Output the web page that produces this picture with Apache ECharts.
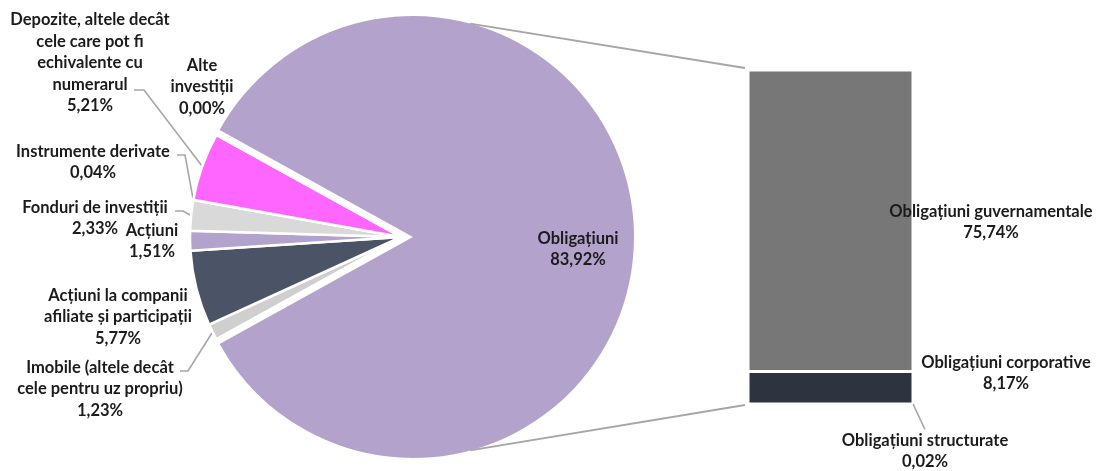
<!DOCTYPE html>
<html>
<head>
<meta charset="utf-8">
<script src="https://cdn.jsdelivr.net/npm/echarts@6/dist/echarts.min.js"></script>
<style>
  html, body { margin: 0; padding: 0; background: #ffffff; }
  #chart { width: 1097px; height: 471px; }
</style>
</head>
<body>
<div id="chart"></div>
<script>
// Structura plasamentelor (pie) – ordinea sensului acelor de ceasornic
const pieCategories = [
  'Obligațiuni',
  'Imobile (altele decât\ncele pentru uz propriu)',
  'Acțiuni la companii\nafiliate și participații',
  'Acțiuni',
  'Fonduri de investiții',
  'Instrumente derivate',
  'Depozite, altele decât\ncele care pot fi\nechivalente cu\nnumerarul',
  'Alte\ninvestiții'
];
const pieValues = [83.92, 1.23, 5.77, 1.51, 2.33, 0.04, 5.21, 0.00];
const pieColors = ['#B3A2CC', '#CFCFCF', '#4A5466', '#B3A2CC', '#D9D9D9', '#8E8E8E', '#FF66FF', '#A0A0A0'];

// Detalierea obligațiunilor (bara), de jos în sus
const barCategories = ['Obligațiuni structurate', 'Obligațiuni corporative', 'Obligațiuni guvernamentale'];
const barValues = [0.02, 8.17, 75.74];
const barColors = ['#5A5A5A', '#2E343F', '#777777'];

// Label placement: text centre and the elbow/end points of the guide line
const pieLabelSpots = [
  { x: 578, y: 249, line: null },
  { x: 100, y: 389, line: [[188, 371], [180, 371]] },
  { x: 118, y: 317, line: null },
  { x: 152, y: 241, line: null },
  { x: 95,  y: 218, line: [[183, 211], [175, 211]] },
  { x: 93,  y: 162, line: [[185, 155], [177, 155]] },
  { x: 90,  y: 63,  line: [[144, 90], [134, 90]] },
  { x: 202, y: 87,  line: null }
];
const barLabelSpots = [
  { x: 925, y: 451, line: [[925, 427]] },
  { x: 1006, y: 373, line: null },
  { x: 991, y: 222, line: null }
];

const MAIN_CENTER = [413, 237], MAIN_R = 221;   // exploded large slice
const SMALL_CENTER = [401, 237], SMALL_R = 211; // remaining slices
const BAR_BOX = { left: 748, top: 70, width: 165, height: 334 };

const FONT = { fontFamily: 'Lato', fontWeight: 'bold', fontSize: 16.5, color: '#1b1b1b', lineHeight: 21.5 };
const GUIDE = '#A6A6A6';

const fmt = v => v.toFixed(2).replace('.', ',') + '%';
const pieTotal = pieValues.reduce((a, b) => a + b, 0);
const restShareDeg = (pieTotal - pieValues[0]) / pieTotal * 360;
const startAngle = 180 - restShareDeg / 2;

// mid-point of a slice's outer arc (clockwise from startAngle)
function arcMid(i) {
  let acc = 0;
  for (let k = 0; k < i; k++) acc += pieValues[k];
  const midDeg = startAngle - (acc + pieValues[i] / 2) / pieTotal * 360;
  const r = midDeg * Math.PI / 180;
  return [SMALL_CENTER[0] + SMALL_R * Math.cos(r), SMALL_CENTER[1] - SMALL_R * Math.sin(r)];
}

const hidden = { color: 'rgba(0,0,0,0)', borderWidth: 0 };

const mainData = pieCategories.map((name, i) => i === 0
  ? { name, value: pieValues[i], itemStyle: { color: pieColors[i] },
      label: { show: true, position: 'inside' }, labelLine: { show: false } }
  : { name, value: pieValues[i], itemStyle: hidden, label: { show: false }, labelLine: { show: false } });

const smallData = pieCategories.map((name, i) => i === 0
  ? { name, value: pieValues[i], itemStyle: hidden, label: { show: false }, labelLine: { show: false } }
  : { name, value: pieValues[i],
      itemStyle: { color: pieColors[i], borderColor: '#ffffff', borderWidth: 2.5 },
      label: { show: true, position: 'outside' },
      labelLine: { show: !!pieLabelSpots[i].line } });

function pieLayout(params) {
  const s = pieLabelSpots[params.dataIndex];
  const out = { x: s.x, y: s.y, align: 'center', verticalAlign: 'middle' };
  if (s.line) out.labelLinePoints = [arcMid(params.dataIndex)].concat(s.line);
  return out;
}

const labelBase = Object.assign({
  formatter: p => p.name + '\n' + fmt(p.value),
  align: 'center', width: 300, overflow: 'none'
}, FONT);

const barTotal = barValues.reduce((a, b) => a + b, 0);

const barSeries = barCategories.map((name, i) => ({
  type: 'bar', name, stack: 'obligatiuni', barWidth: '100%',
  data: [barValues[i]],
  itemStyle: { color: barColors[i], borderColor: '#ffffff', borderWidth: 1.5 },
  label: Object.assign({ show: true, position: 'inside',
    formatter: p => p.seriesName + '\n' + fmt(p.value), align: 'center' }, FONT),
  labelLine: { show: !!barLabelSpots[i].line, lineStyle: { color: GUIDE, width: 1.6 } },
  labelLayout: () => {
    const s = barLabelSpots[i];
    const out = { x: s.x, y: s.y, align: 'center', verticalAlign: 'middle' };
    if (s.line) out.labelLinePoints = [[BAR_BOX.left + BAR_BOX.width + 1, BAR_BOX.top + BAR_BOX.height + 3]].concat(s.line);
    return out;
  },
  emphasis: { disabled: true },
  silent: true,
  animation: false
}));

// connectors from the large slice to the bar
function tangentPoint(deg) {
  const r = deg * Math.PI / 180;
  return [MAIN_CENTER[0] + MAIN_R * Math.cos(r), MAIN_CENTER[1] - MAIN_R * Math.sin(r)];
}
const topP = tangentPoint(75), botP = tangentPoint(-75);

const chart = echarts.init(document.getElementById('chart'), null, { renderer: 'canvas' });
chart.setOption({
  backgroundColor: '#ffffff',
  animation: false,
  grid: { left: BAR_BOX.left, top: BAR_BOX.top, width: BAR_BOX.width, height: BAR_BOX.height, containLabel: false },
  xAxis: { type: 'category', data: [''], show: false },
  yAxis: { type: 'value', min: 0, max: barTotal, show: false },
  series: [
    {
      type: 'pie', center: MAIN_CENTER, radius: MAIN_R, startAngle, clockwise: true,
      avoidLabelOverlap: false, silent: true, emphasis: { disabled: true },
      label: labelBase, labelLine: { show: false },
      labelLayout: pieLayout,
      data: mainData
    },
    {
      type: 'pie', center: SMALL_CENTER, radius: SMALL_R, startAngle, clockwise: true,
      avoidLabelOverlap: false, silent: true, emphasis: { disabled: true },
      minShowLabelAngle: 0,
      label: labelBase,
      labelLine: { show: true, length: 10, length2: 8, lineStyle: { color: GUIDE, width: 1.6 } },
      labelLayout: pieLayout,
      data: smallData
    }
  ].concat(barSeries),
  graphic: [
    { type: 'line', silent: true, z: 1,
      shape: { x1: topP[0], y1: topP[1], x2: BAR_BOX.left - 3, y2: BAR_BOX.top - 2 },
      style: { stroke: GUIDE, lineWidth: 1.8 } },
    { type: 'line', silent: true, z: 1,
      shape: { x1: botP[0], y1: botP[1], x2: BAR_BOX.left - 3, y2: BAR_BOX.top + BAR_BOX.height + 1 },
      style: { stroke: GUIDE, lineWidth: 1.8 } }
  ]
});
</script>
</body>
</html>
